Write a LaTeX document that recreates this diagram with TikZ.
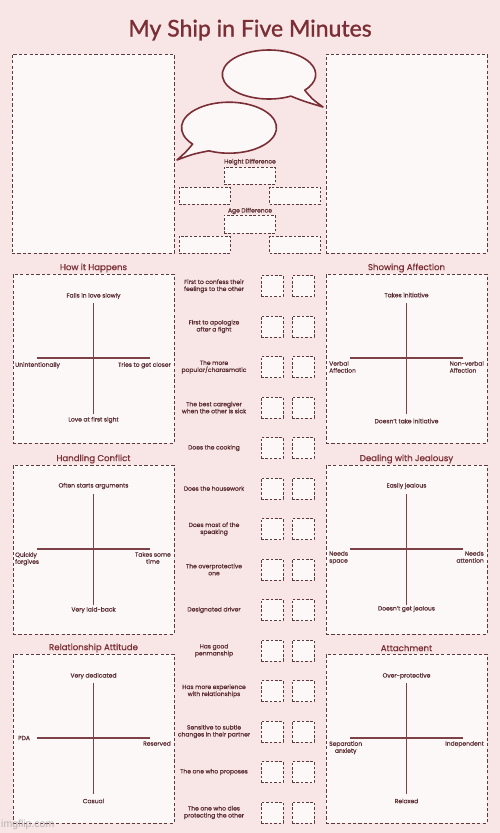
\documentclass[tikz,border=0pt]{standalone}
\usepackage{fontspec}
\setmainfont{Poppins}[FakeBold=0.6]
\newfontfamily\titlefont{Lato}[FakeBold=1.2]
\newfontfamily\wmfont{Liberation Sans}
\usetikzlibrary{calc}
\definecolor{bg}{HTML}{F8E5E5}
\definecolor{paper}{HTML}{FDF8F8}
\definecolor{maroon}{HTML}{7A2E35}
\definecolor{dashc}{HTML}{5C3A3D}
\definecolor{axisc}{HTML}{7D4248}
\definecolor{txt}{HTML}{5A2E33}
\newcommand\panel[5]{% name, left x, top y, title, (unused)
  \node[bigbox,anchor=north west,minimum width=161pt,minimum height=169pt] (#1) at (#2,#3) {};
  \node[ptitle] (#1t) at ($(#1.north)+(0,-6)$) {#4};
  \coordinate (#1vt) at ($(#1.north)+(0,29)$);
  \coordinate (#1vb) at ($(#1.north)+(0,140)$);
  \coordinate (#1hl) at ($(#1.north west)+(24,84)$);
  \coordinate (#1hr) at ($(#1.north west)+(137,84)$);
  \draw[axisline] (#1vt) -- (#1vb);
  \draw[axisline] (#1hl) -- (#1hr);
}
\begin{document}
\begin{tikzpicture}[x=1pt,y=-1pt,
  bigbox/.style={draw=dashc,fill=paper,line width=0.9pt,dash pattern=on 3.2pt off 2.2pt,inner sep=0pt,outer sep=0pt},
  smallbox/.style={draw=dashc,fill=paper,line width=0.7pt,dash pattern=on 2.6pt off 1.8pt,inner sep=0pt,outer sep=0pt},
  axisline/.style={draw=axisc,line width=1.4pt},
  lbl/.style={font=\fontsize{6.0}{7.0}\selectfont,text=txt,inner sep=0pt,align=center},
  ptitle/.style={font=\fontsize{8.6}{10}\selectfont,text=maroon,inner sep=0pt},
  bubble/.style={draw=maroon,fill=paper,line width=1.6pt,line join=round}
]
\path[fill=bg] (0,0) rectangle (500,833);
\useasboundingbox (0,0) rectangle (500,833);

% title
\node[font=\titlefont\fontsize{23}{26}\selectfont,text=maroon,inner sep=0pt] (title) at (250,30) {My Ship in Five Minutes};

% photo boxes
\node[bigbox,anchor=north west,minimum width=162pt,minimum height=199pt] (photoL) at (12,54) {};
\node[bigbox,anchor=north west,minimum width=161pt,minimum height=199pt] (photoR) at (326,54) {};

% speech bubbles
\coordinate (b1c) at (269,74.5);
\coordinate (b1tip) at (323,107);
\path[bubble] (b1c) ++(-62:46.7pt and 24.5pt) coordinate (b1s)
  arc[start angle=-62,end angle=-400,x radius=46.7pt,y radius=24.5pt]
  .. controls (312,99) .. (b1tip) .. controls (303,101) .. (b1s) -- cycle;
\coordinate (b2c) at (229,127.7);
\coordinate (b2tip) at (177,160);
\path[bubble] (b2c) ++(-140:47.5pt and 25.5pt) coordinate (b2s)
  arc[start angle=-140,end angle=-475,x radius=47.5pt,y radius=25.5pt]
  .. controls (193,154) .. (b2tip) .. controls (186,152) .. (b2s) -- cycle;

% height / age difference
\node[lbl] (hdl) at (250,162) {Height Difference};
\node[smallbox,minimum width=51pt,minimum height=17pt] (hd) at (249.5,175.5) {};
\node[smallbox,minimum width=51pt,minimum height=17pt] (hdL) at (204.5,195.5) {};
\node[smallbox,minimum width=51pt,minimum height=17pt] (hdR) at (295,195.5) {};
\node[lbl] (adl) at (250,211) {Age Difference};
\node[smallbox,minimum width=51pt,minimum height=18pt] (ad) at (249.5,224) {};
\node[smallbox,minimum width=51pt,minimum height=17pt] (adL) at (204.5,244.5) {};
\node[smallbox,minimum width=51pt,minimum height=17pt] (adR) at (295,244.5) {};

% panels
\panel{p1}{13}{274}{How it Happens}{}
\node[lbl] (p1top) at (93.5,296) {Falls in love slowly};
\node[lbl] (p1bot) at (93.5,420) {Love at first sight};
\node[lbl,anchor=north west,align=left] (p1l) at (15,362) {Unintentionally};
\node[lbl,anchor=north east] (p1r) at (171,362) {Tries to get closer};

\panel{p2}{326}{274}{Showing Affection}{}
\node[lbl] (p2top) at (406.5,295) {Takes initiative};
\node[lbl] (p2bot) at (406.5,421) {Doesn't take initiative};
\node[lbl,anchor=north west,align=left] (p2l) at (329,361) {Verbal\\Affection};
\node[lbl,anchor=north east,align=left] (p2r) at (484,361) {Non-verbal\\Affection};

\panel{p3}{13}{465}{Handling Conflict}{}
\node[lbl] (p3top) at (93.5,486) {Often starts arguments};
\node[lbl] (p3bot) at (93.5,610) {Very laid-back};
\node[lbl,anchor=north west,align=left] (p3l) at (15,552) {Quickly\\forgives};
\node[lbl,anchor=north east,align=center] (p3r) at (171,552) {Takes some\\time};

\panel{p4}{326}{465}{Dealing with Jealousy}{}
\node[lbl] (p4top) at (406.5,486) {Easily jealous};
\node[lbl] (p4bot) at (406.5,609) {Doesn't get jealous};
\node[lbl,anchor=north west,align=left] (p4l) at (329,551) {Needs\\space};
\node[lbl,anchor=north east,align=right] (p4r) at (484,551) {Needs\\attention};

\panel{p5}{13}{654}{Relationship Attitude}{}
\node[lbl] (p5top) at (93.5,676) {Very dedicated};
\node[lbl] (p5bot) at (93.5,801) {Casual};
\node[lbl,anchor=west] (p5l) at (18,738) {PDA};
\node[lbl,anchor=north east] (p5r) at (171,741) {Reserved};

\panel{p6}{326}{654}{Attachment}{}
\node[lbl] (p6top) at (406.5,676) {Over-protective};
\node[lbl] (p6bot) at (406.5,801) {Relaxed};
\node[lbl,anchor=north west,align=center] (p6l) at (329,741) {Separation\\anxiety};
\node[lbl,anchor=north east] (p6r) at (484,741) {Independent};

% questions
\foreach \i/\t in {1/{First to confess their\\feelings to the other},
  2/{First to apologize\\after a fight},
  3/{The more\\popular/charasmatic},
  4/{The best caregiver\\when the other is sick},
  5/{Does the cooking},
  6/{Does the housework},
  7/{Does most of the\\speaking},
  8/{The overprotective\\one},
  9/{Designated driver},
  10/{Has good\\penmanship},
  11/{Has more experience\\with relationships},
  12/{Sensitive to subtle\\changes in their partner},
  13/{The one who proposes},
  14/{The one who dies\\protecting the other}}{
  \pgfmathsetmacro\yy{286+40.5*(\i-1)}
  \node[lbl] (q\i) at (214,\yy) {\t};
  \node[smallbox,minimum width=22pt,minimum height=21pt] (a\i) at (272,\yy) {};
  \node[smallbox,minimum width=22pt,minimum height=21pt] (b\i) at (303,\yy) {};
}

% watermark
\node[anchor=west,inner sep=0pt,text=black!35,opacity=0.8,font=\wmfont\fontsize{10.5}{10.5}\selectfont] (wm) at (1,825) {imgflip.com};
\end{tikzpicture}
\end{document}
